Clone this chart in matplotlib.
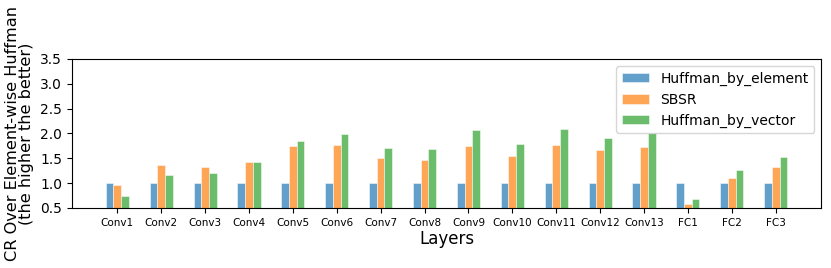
import numpy as np
import matplotlib
matplotlib.use('Agg')
import matplotlib.pyplot as plt

layers = ['Conv1', 'Conv2', 'Conv3', 'Conv4', 'Conv5', 'Conv6', 'Conv7', 'Conv8',
          'Conv9', 'Conv10', 'Conv11', 'Conv12', 'Conv13', 'FC1', 'FC2', 'FC3']
huffman_by_element = [1.0] * 16
sbsr = [0.97, 1.37, 1.32, 1.42, 1.74, 1.76, 1.51, 1.46,
        1.74, 1.55, 1.77, 1.66, 1.73, 0.57, 1.11, 1.32]
huffman_by_vector = [0.75, 1.16, 1.20, 1.43, 1.84, 1.99, 1.70, 1.69,
                     2.06, 1.78, 2.09, 1.91, 2.00, 0.68, 1.26, 1.52]

fig = plt.figure(figsize=(8.31, 2.68), dpi=100)
ax = fig.add_axes([0.0863, 0.224, 0.902, 0.556])

x = np.arange(len(layers))
w = 0.175
# thin white edges like the original
ax.bar(x - w, huffman_by_element, w, bottom=0, color='tab:blue', alpha=0.7,
       edgecolor='white', linewidth=0.5, label='Huffman_by_element')
ax.bar(x, sbsr, w, color='tab:orange', alpha=0.7,
       edgecolor='white', linewidth=0.5, label='SBSR')
ax.bar(x + w, huffman_by_vector, w, color='tab:green', alpha=0.7,
       edgecolor='white', linewidth=0.5, label='Huffman_by_vector')

ax.set_ylim(0.5, 3.5)
ax.set_yticks(np.arange(0.5, 3.51, 0.5))
ax.tick_params(axis='y', labelsize=10)
ax.set_xticks(x)
ax.set_xticklabels(layers, fontsize=7.5)
ax.set_xlabel('Layers', fontsize=12, labelpad=2)
ax.set_ylabel('CR Over Element-wise Huffman\n(the higher the better)', fontsize=11.6,
              linespacing=0.95, labelpad=4)
ax.legend(loc='upper right', fontsize=10)

fig.savefig('out.png', dpi=100)
